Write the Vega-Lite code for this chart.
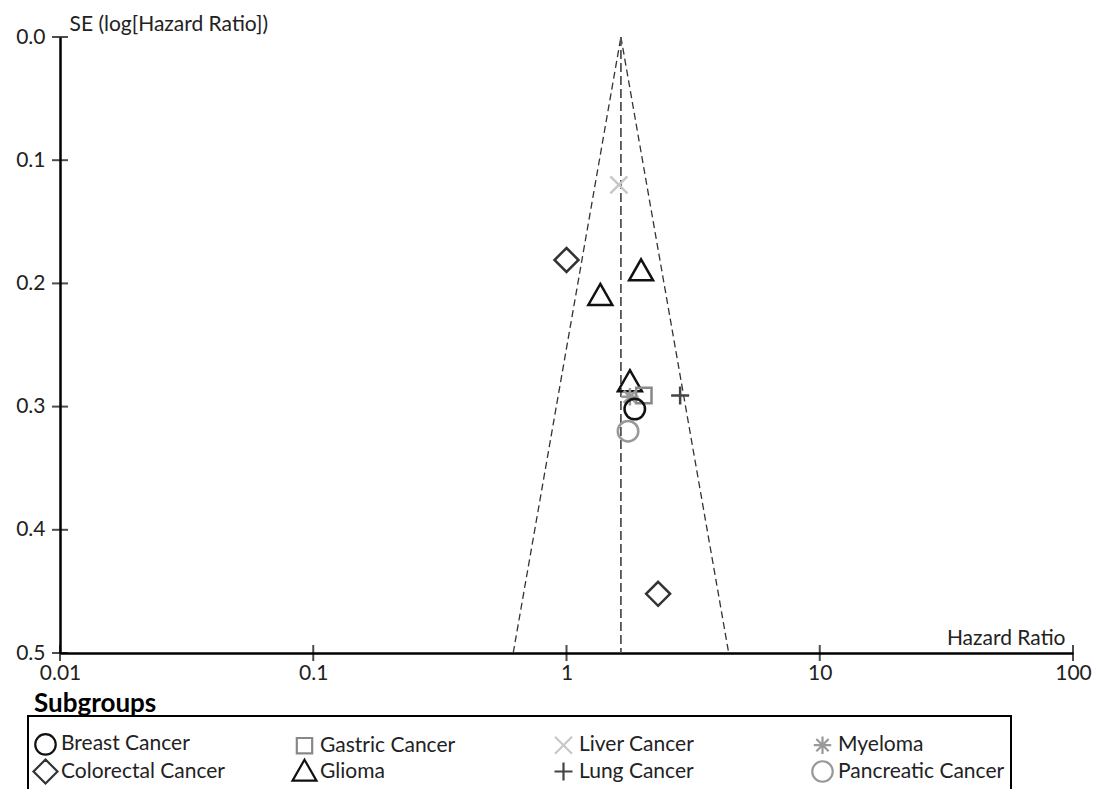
{
  "$schema": "https://vega.github.io/schema/vega-lite/v6.json",
  "width": 1013,
  "height": 616,
  "autosize": {"type": "none"},
  "padding": {"left": 60, "top": 37, "right": 28, "bottom": 136},
  "background": "white",
  "config": {
    "font": "Lato",
    "view": {"stroke": null},
    "axis": {"grid": false, "domainColor": "black", "domainWidth": 2.5, "labelFontSize": 21, "labelColor": "#222", "titleFontSize": 21, "titleFontWeight": "normal", "titleColor": "#222", "ticks": false},
    "legend": {
      "orient": "none", "legendX": -32, "legendY": 679, "direction": "horizontal", "columns": 4, "gridAlign": "all",
      "columnPadding": 60, "rowPadding": -5, "padding": 6, "titlePadding": -16,
      "titleFontSize": 26, "titleFontWeight": "bold", "titleColor": "black", "titleBaseline": "line-bottom", "titleLineHeight": 35,
      "labelFontSize": 21, "labelColor": "#222", "labelOffset": 4, "labelLimit": 400,
      "symbolSize": 420, "symbolStrokeWidth": 2.2,
      "strokeColor": "black", "strokeWidth": 2, "fillColor": "white"
    }
  },
  "datasets": {
    "points": [
      {"subgroup": "Liver Cancer", "hr": 1.61, "se": 0.12},
      {"subgroup": "Colorectal Cancer", "hr": 1.0, "se": 0.181},
      {"subgroup": "Glioma", "hr": 1.97, "se": 0.19},
      {"subgroup": "Glioma", "hr": 1.36, "se": 0.21},
      {"subgroup": "Glioma", "hr": 1.78, "se": 0.28},
      {"subgroup": "Gastric Cancer", "hr": 2.02, "se": 0.291},
      {"subgroup": "Myeloma", "hr": 1.78, "se": 0.292},
      {"subgroup": "Lung Cancer", "hr": 2.81, "se": 0.291},
      {"subgroup": "Breast Cancer", "hr": 1.86, "se": 0.302},
      {"subgroup": "Pancreatic Cancer", "hr": 1.75, "se": 0.32},
      {"subgroup": "Colorectal Cancer", "hr": 2.3, "se": 0.452}
    ],
    "funnel": [
      {"line": "lower", "hr": 1.64, "se": 0},
      {"line": "lower", "hr": 0.616, "se": 0.5},
      {"line": "upper", "hr": 1.64, "se": 0},
      {"line": "upper", "hr": 4.37, "se": 0.5},
      {"line": "center", "hr": 1.64, "se": 0},
      {"line": "center", "hr": 1.64, "se": 0.5}
    ],
    "xticks": [
      {"hr": 0.01, "se": 0.5}, {"hr": 0.1, "se": 0.5}, {"hr": 1, "se": 0.5}, {"hr": 10, "se": 0.5}, {"hr": 100, "se": 0.5}
    ],
    "yticks": [
      {"hr": 0.01, "se": 0}, {"hr": 0.01, "se": 0.1}, {"hr": 0.01, "se": 0.2}, {"hr": 0.01, "se": 0.3}, {"hr": 0.01, "se": 0.4}, {"hr": 0.01, "se": 0.5}
    ]
  },
  "encoding": {
    "x": {
      "field": "hr", "type": "quantitative",
      "scale": {"type": "log", "domain": [0.01, 100], "nice": false},
      "axis": {"values": [0.01, 0.1, 1, 10, 100], "format": "~g", "labelPadding": 9, "title": "Hazard Ratio", "titleX": 1005, "titleY": -9, "titleAlign": "right", "titleBaseline": "alphabetic", "labelFlush": false}
    },
    "y": {
      "field": "se", "type": "quantitative",
      "scale": {"domain": [0, 0.5], "reverse": true, "nice": false, "zero": false},
      "axis": {"values": [0, 0.1, 0.2, 0.3, 0.4, 0.5], "format": ".1f", "labelPadding": 15, "title": "SE (log[Hazard Ratio])", "titleAngle": 0, "titleX": 9, "titleY": -7, "titleAlign": "left", "titleBaseline": "alphabetic"}
    }
  },
  "layer": [
    {
      "data": {"name": "funnel"},
      "transform": [{"filter": "datum.line !== 'center'"}],
      "mark": {"type": "line", "color": "#333", "strokeWidth": 1.3, "strokeDash": [7, 4]},
      "encoding": {"detail": {"field": "line"}}
    },
    {
      "data": {"name": "funnel"},
      "transform": [{"filter": "datum.line === 'center'"}],
      "mark": {"type": "line", "color": "#555", "strokeWidth": 1.8, "strokeDash": [9, 4]},
      "encoding": {"detail": {"field": "line"}}
    },
    {
      "data": {"name": "xticks"},
      "mark": {"type": "tick", "orient": "vertical", "color": "black", "size": 16, "thickness": 2},
      "encoding": {}
    },
    {
      "data": {"name": "yticks"},
      "mark": {"type": "tick", "orient": "horizontal", "color": "black", "size": 16, "thickness": 2},
      "encoding": {}
    },
    {
      "data": {"name": "points"},
      "mark": {"type": "point", "filled": false, "strokeWidth": 2.5, "size": 420, "opacity": 1},
      "encoding": {
        "shape": {
          "field": "subgroup", "type": "nominal",
          "scale": {
            "domain": ["Breast Cancer", "Gastric Cancer", "Liver Cancer", "Myeloma", "Colorectal Cancer", "Glioma", "Lung Cancer", "Pancreatic Cancer"],
            "range": ["circle", "M-0.75,-0.75H0.75V0.75H-0.75Z", "M-0.83,-0.83L0.83,0.83M-0.83,0.83L0.83,-0.83", "M-0.85,0L0.85,0M0,-0.85L0,0.85M-0.6,-0.6L0.6,0.6M-0.6,0.6L0.6,-0.6", "M0,-1.17L1.17,0L0,1.17L-1.17,0Z", "M0,-1.15L1.17,0.9L-1.17,0.9Z", "M-0.88,0L0.88,0M0,-0.88L0,0.88", "circle"]
          },
          "legend": {"title": "Subgroups"}
        },
        "color": {
          "field": "subgroup", "type": "nominal",
          "scale": {
            "domain": ["Breast Cancer", "Gastric Cancer", "Liver Cancer", "Myeloma", "Colorectal Cancer", "Glioma", "Lung Cancer", "Pancreatic Cancer"],
            "range": ["#111111", "#888888", "#c8c8c8", "#999999", "#333333", "#111111", "#444444", "#999999"]
          },
          "legend": {"title": "Subgroups"}
        }
      }
    }
  ]
}
